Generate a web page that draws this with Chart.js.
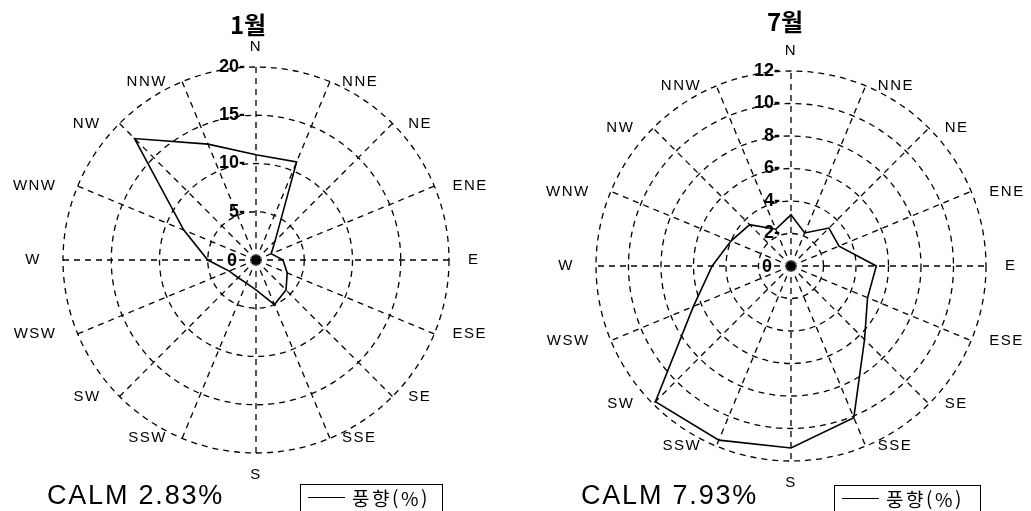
<!DOCTYPE html>
<html lang="ko">
<head>
<meta charset="utf-8">
<title>풍향 1월 / 7월</title>
<script src="https://cdn.jsdelivr.net/npm/chart.js@4.4.1/dist/chart.umd.min.js"></script>
<style>
  body { margin: 0; background: #fff; }
  #wrap { position: relative; width: 1031px; height: 511px; overflow: hidden; }
  canvas { position: absolute; top: 0; }
  .calm {
    position: absolute; top: 482px; font: 27px/27px "Liberation Sans", Arial, sans-serif;
    letter-spacing: 1.8px; color: #000; white-space: nowrap;
  }
  .legend {
    position: absolute; height: 40px; border: 1.5px solid #000; box-sizing: border-box;
  }
  .legend .swatch { position: absolute; left: 7px; top: 12px; width: 37px; border-top: 1.5px solid #000; }
  .legend .txt {
    position: absolute; left: 51px; top: 0px; font: 19px/25px "Noto Sans CJK KR", sans-serif;
    letter-spacing: 2.5px; white-space: nowrap;
  }
</style>
</head>
<body>
<div id="wrap">
  <canvas id="janChart" width="515" height="511" style="left:0px"></canvas>
  <canvas id="julChart" width="515" height="511" style="left:516px"></canvas>

  <div class="calm" style="left:47px">CALM 2.83%</div>
  <div class="legend" style="left:300px; top:484px; width:143px">
    <div class="swatch"></div><div class="txt">풍향(%)</div>
  </div>

  <div class="calm" style="left:581px">CALM 7.93%</div>
  <div class="legend" style="left:834px; top:485px; width:147px">
    <div class="swatch"></div><div class="txt">풍향(%)</div>
  </div>
</div>

<script>
// Wind directions, clockwise from north
const directions = ['N', 'NNE', 'NE', 'ENE', 'E', 'ESE', 'SE', 'SSE',
                    'S', 'SSW', 'SW', 'WSW', 'W', 'WNW', 'NW', 'NNW'];

// Wind direction frequency (%)
const janValues = [10.9, 11.0, 2.8, 1.7, 2.8, 3.5, 4.4, 5.0, 3.1, 2.6, 2.6, 3.0, 5.0, 8.1, 17.8, 13.0];
const julValues = [3.15, 2.2, 3.3, 3.2, 5.25, 5.1, 6.4, 10.1, 11.2, 11.6, 11.8, 6.5, 4.85, 4.0, 3.6, 2.45];

// Radial tick labels
const janTicks = [0, 5, 10, 15, 20];
const julTicks = [0, 2, 4, 6, 8, 10, 12];

// Draws title, direction labels, tick labels and the centre dot
const roseDecor = {
  id: 'roseDecor',
  afterDraw(chart, args, opts) {
    const scale = chart.scales.r;
    const ctx = chart.ctx;
    const cx = scale.xCenter;
    const cy = scale.yCenter;
    const outer = scale.getDistanceFromCenterForValue(scale.max);
    ctx.save();
    ctx.fillStyle = '#000';

    // title
    ctx.font = 'bold 24px "Noto Sans CJK KR", sans-serif';
    ctx.textAlign = 'center';
    ctx.textBaseline = 'middle';
    ctx.fillText(opts.title, cx + opts.titleDx, opts.titleY);

    // direction labels
    ctx.font = '15px "Liberation Sans", Arial, sans-serif';
    ctx.letterSpacing = '1.5px';
    chart.data.labels.forEach((label, i) => {
      const p = scale.getPointPosition(i, outer);
      const dx = p.x - cx;
      if (Math.abs(dx) < 1) {
        ctx.textAlign = 'center';
        if (p.y < cy) {
          ctx.textBaseline = 'bottom';
          ctx.fillText(label, p.x, p.y - 13);
        } else {
          ctx.textBaseline = 'top';
          ctx.fillText(label, p.x, p.y + 14);
        }
      } else {
        const off = 8 + 11 * Math.abs(dx) / outer + (dx < 0 ? 3 : 0);
        ctx.textAlign = dx > 0 ? 'left' : 'right';
        ctx.textBaseline = 'middle';
        ctx.fillText(label, p.x + (dx > 0 ? off : -off), p.y);
      }
    });
    ctx.letterSpacing = '0px';

    // tick labels along the north axis
    ctx.font = 'bold 18px "Liberation Sans", Arial, sans-serif';
    ctx.textAlign = 'right';
    ctx.textBaseline = 'middle';
    opts.ticks.forEach((v) => {
      const y = cy - scale.getDistanceFromCenterForValue(v);
      if (v === 0) {
        ctx.fillText('0', cx - 19, y + 1);
      } else {
        ctx.fillText(v + '-', cx - 11, y);
      }
    });

    // centre dot
    ctx.beginPath();
    ctx.arc(cx, cy, 4.5, 0, Math.PI * 2);
    ctx.fill();
    ctx.restore();
  },
};

function createRose(canvasId, values, ticks, title, padding, titleY, titleDx) {
  const ctx = document.getElementById(canvasId);
  return new Chart(ctx, {
    type: 'radar',
    data: {
      labels: directions,
      datasets: [
        {
          label: '풍향(%)',
          data: values,
          borderColor: '#000',
          borderWidth: 1.6,
          fill: false,
          pointRadius: 0,
          tension: 0,
        },
      ],
    },
    options: {
      responsive: false,
      animation: false,
      layout: { padding: padding },
      scales: {
        r: {
          min: ticks[0],
          max: ticks[ticks.length - 1],
          ticks: { stepSize: ticks[1] - ticks[0], display: false },
          pointLabels: { display: false },
          grid: { circular: true, color: '#000', lineWidth: 1.3 },
          border: { dash: [6, 5] },
          angleLines: { color: '#000', lineWidth: 1.3, borderDash: [6, 5] },
        },
      },
      plugins: {
        legend: { display: false },
        tooltip: { enabled: false },
        roseDecor: { title: title, ticks: ticks, titleY: titleY, titleDx: titleDx },
      },
    },
    plugins: [roseDecor],
  });
}

createRose('janChart', janValues, janTicks, '1월', { left: 63, top: 67, right: 66, bottom: 58 }, 25, -8);
createRose('julChart', julValues, julTicks, '7월', { left: 80, top: 71, right: 45, bottom: 50 }, 22, -6);
</script>
</body>
</html>
